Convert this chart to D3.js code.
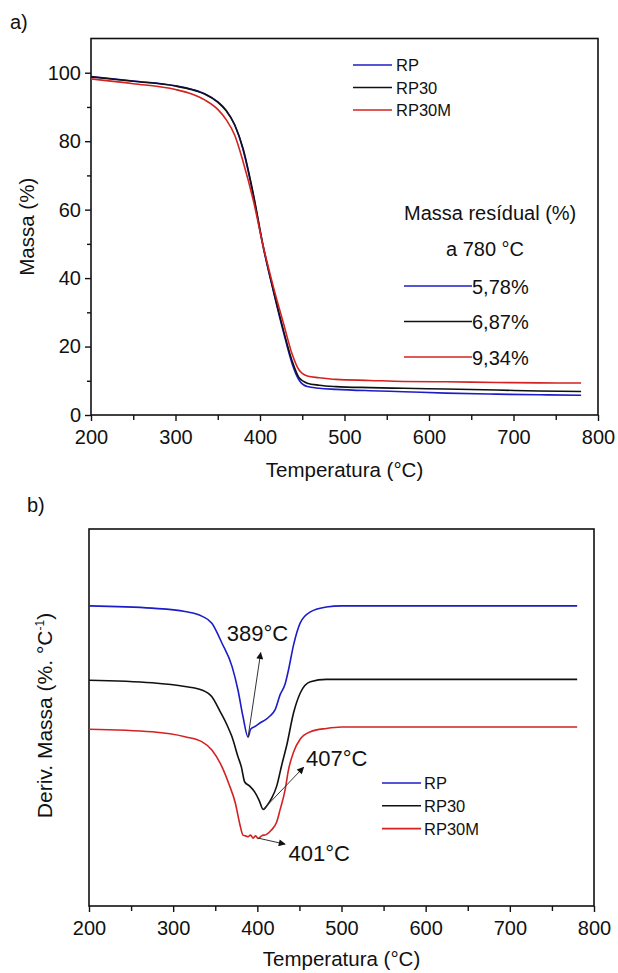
<!DOCTYPE html>
<html>
<head>
<meta charset="utf-8">
<script src="https://cdn.jsdelivr.net/npm/d3@7/dist/d3.min.js"></script>
<style>
  html, body { margin: 0; padding: 0; background: #fff; }
  svg { display: block; }
  text { font-family: "Liberation Sans", Arial, sans-serif; fill: #111; }
</style>
</head>
<body>
<svg id="chart" width="618" height="973"></svg>
<script>
// ---------- DATA ----------
const seriesNames = ["RP", "RP30", "RP30M"];
const seriesColors = ["#1c1cc8", "#111111", "#d42222"];
const residualLabels = ["5,78%", "6,87%", "9,34%"];

const xMajorTicks = [200, 300, 400, 500, 600, 700, 800];
const xMinorTicks = [250, 350, 450, 550, 650, 750];
const yMajorTicks = [0, 20, 40, 60, 80, 100];
const yMinorTicks = [10, 30, 50, 70, 90];

// (a) TGA: mass (%) vs temperature (°C)
const tgaTemp   = [200, 250, 300, 320, 335, 350, 360, 370, 380, 392, 404, 416, 428, 438, 446, 456, 470, 490, 530, 570, 620, 680, 730, 780];
const tgaRP     = [98.9, 97.6, 96.2, 95.1, 93.8, 91.5, 89.0, 84.8, 77.5, 64.3, 48.8, 36.0, 24.0, 15.0, 10.3, 8.3, 7.8, 7.5, 7.1, 6.8, 6.4, 6.1, 5.9, 5.78];
const tgaRP30   = [98.8, 97.5, 96.1, 95.0, 93.7, 91.4, 88.9, 84.8, 77.8, 64.7, 49.1, 36.3, 24.5, 15.8, 11.0, 9.3, 8.7, 8.3, 8.0, 7.8, 7.6, 7.3, 7.0, 6.87];
const tgaRP30M  = [98.2, 96.8, 95.1, 93.7, 92.0, 89.3, 86.3, 81.8, 74.0, 62.8, 49.1, 37.3, 26.6, 17.8, 13.2, 11.4, 10.9, 10.4, 10.1, 9.8, 9.7, 9.5, 9.4, 9.34];

// (b) DTG (arbitrary offset units)
const dtgTempRP   = [200, 275, 314, 334, 346, 358, 370, 377, 383, 389, 392, 397, 405, 409, 415, 421, 427, 433, 437, 443, 451, 463, 482, 500, 780];
const dtgRP       = [79.6, 79.0, 78.1, 76.9, 75.0, 69.7, 63.5, 57.3, 50.2, 44.8, 46.9, 47.6, 48.8, 49.3, 50.4, 52.0, 56.0, 58.9, 62.6, 69.2, 75.1, 78.0, 79.3, 79.6, 79.6];
const dtgTempRP30 = [200, 275, 314, 334, 346, 356, 364, 370, 377, 381, 385, 391, 397, 402, 407, 412, 417, 423, 429, 435, 443, 451, 463, 482, 780];
const dtgRP30     = [59.9, 59.2, 58.2, 57.3, 55.5, 51.5, 48.0, 44.8, 39.6, 36.9, 32.9, 31.8, 30.2, 28.1, 25.6, 26.8, 28.6, 31.8, 37.4, 42.7, 51.2, 56.5, 59.5, 60.1, 60.1];
const dtgTempRP30M = [200, 275, 314, 334, 346, 358, 366, 374, 379, 383, 386, 389, 392, 395, 398, 401, 405, 411, 417, 423, 427, 433, 437, 443, 451, 463, 482, 500, 780];
const dtgRP30M     = [46.9, 46.2, 44.9, 43.6, 41.4, 36.9, 32.5, 27.2, 21.9, 18.8, 18.6, 18.4, 18.8, 18.0, 18.6, 17.9, 18.6, 19.0, 20.2, 22.3, 25.5, 30.8, 36.1, 40.8, 44.3, 46.2, 47.1, 47.5, 47.5];

// peak annotations
const peakTemps  = [389, 407, 401];
const peakValues = [44.8, 25.6, 18.0];
const arrowEndT  = [404, 455, 433];
const arrowEndV  = [67.2, 36.8, 16.4];
const peakLabels = ["389°C", "407°C", "401°C"];
const labelT     = [363.6, 457.8, 437.1];
const labelV     = [70.3, 37.1, 11.9];

// ---------- DRAW ----------
const svg = d3.select("#chart");
svg.append("rect").attr("width", 618).attr("height", 973).attr("fill", "#fff");

const defs = svg.append("defs");
defs.append("marker").attr("id", "arrow").attr("viewBox", "0 0 10 10")
  .attr("refX", 9).attr("refY", 5).attr("markerWidth", 10).attr("markerHeight", 7)
  .attr("markerUnits", "userSpaceOnUse").attr("orient", "auto")
  .append("path").attr("d", "M0,0 L10,5 L0,10 z").attr("fill", "#111");

function frameAndXAxis(g, x, y0, y1) {
  g.append("rect").attr("x", x.range()[0]).attr("y", y1)
    .attr("width", x.range()[1] - x.range()[0]).attr("height", y0 - y1)
    .attr("fill", "none").attr("stroke", "#111").attr("stroke-width", 1.6);
  const ax = g.append("g").attr("transform", `translate(0,${y0})`)
    .call(d3.axisBottom(x).tickValues(xMajorTicks).tickSize(6).tickPadding(9).tickFormat(d3.format("d")));
  ax.select(".domain").remove();
  ax.selectAll("line").attr("stroke", "#111").attr("stroke-width", 1.4);
  ax.selectAll("text").attr("font-size", 20).attr("fill", "#111")
    .style("font-family", '"Liberation Sans", Arial, sans-serif');
  const axm = g.append("g").attr("transform", `translate(0,${y0})`)
    .call(d3.axisBottom(x).tickValues(xMinorTicks).tickSize(5).tickFormat(""));
  axm.select(".domain").remove();
  axm.selectAll("line").attr("stroke", "#111").attr("stroke-width", 1.4);
}

// ===== (a) =====
const xA = d3.scaleLinear().domain([200, 800]).range([91, 598]);
const yA = d3.scaleLinear().domain([0, 110]).range([415, 38.5]);
const gA = svg.append("g");

svg.append("text").attr("x", 10).attr("y", 29).attr("font-size", 20).text("a)");

frameAndXAxis(gA, xA, yA(0), yA(110));
const ayA = gA.append("g").attr("transform", `translate(${xA(200)},0)`)
  .call(d3.axisLeft(yA).tickValues(yMajorTicks).tickSize(6).tickPadding(4));
ayA.select(".domain").remove();
ayA.selectAll("line").attr("stroke", "#111").attr("stroke-width", 1.4);
ayA.selectAll("text").attr("font-size", 20).attr("fill", "#111")
  .style("font-family", '"Liberation Sans", Arial, sans-serif');
const aymA = gA.append("g").attr("transform", `translate(${xA(200)},0)`)
  .call(d3.axisLeft(yA).tickValues(yMinorTicks).tickSize(4).tickFormat(""));
aymA.select(".domain").remove();
aymA.selectAll("line").attr("stroke", "#111").attr("stroke-width", 1.4);

gA.append("text").attr("x", (xA(200) + xA(800)) / 2).attr("y", 477)
  .attr("text-anchor", "middle").attr("font-size", 20.5).text("Temperatura (°C)");
gA.append("text").attr("transform", `translate(34,${(yA(0) + yA(110)) / 2}) rotate(-90)`)
  .attr("text-anchor", "middle").attr("font-size", 20.5).text("Massa (%)");

const tgaSeries = [tgaRP, tgaRP30, tgaRP30M];
const lineA = d3.line().x(d => xA(d[0])).y(d => yA(d[1])).curve(d3.curveMonotoneX);
tgaSeries.forEach((vals, i) => {
  gA.append("path").datum(tgaTemp.map((t, k) => [t, vals[k]]))
    .attr("d", lineA).attr("fill", "none").attr("stroke", seriesColors[i]).attr("stroke-width", 1.6);
});

// legend (a)
const legA = gA.append("g");
seriesNames.forEach((n, i) => {
  const yy = 65 + i * 22.5;
  legA.append("line").attr("x1", 353).attr("x2", 392).attr("y1", yy).attr("y2", yy)
    .attr("stroke", seriesColors[i]).attr("stroke-width", 1.6);
  legA.append("text").attr("x", 396).attr("y", yy + 6).attr("font-size", 16.5).text(n);
});

// residual block
gA.append("text").attr("x", 404).attr("y", 220).attr("font-size", 20).text("Massa resídual (%)");
gA.append("text").attr("x", 446).attr("y", 256).attr("font-size", 20).text("a 780 °C");
residualLabels.forEach((lab, i) => {
  const yy = 286 + i * 35.5;
  gA.append("line").attr("x1", 404).attr("x2", 472).attr("y1", yy).attr("y2", yy)
    .attr("stroke", seriesColors[i]).attr("stroke-width", 1.6);
  gA.append("text").attr("x", 472).attr("y", yy + 7.5).attr("font-size", 20).text(lab);
});

// ===== (b) =====
const xB = d3.scaleLinear().domain([200, 800]).range([89, 594]);
const yB = d3.scaleLinear().domain([0, 100]).range([906, 529]);
const gB = svg.append("g");

svg.append("text").attr("x", 27).attr("y", 512).attr("font-size", 20).text("b)");

frameAndXAxis(gB, xB, yB(0), yB(100));

gB.append("text").attr("x", (xB(200) + xB(800)) / 2).attr("y", 966)
  .attr("text-anchor", "middle").attr("font-size", 20.5).text("Temperatura (°C)");
const yt = gB.append("text").attr("transform", `translate(52,${(yB(0) + yB(100)) / 2 - 2}) rotate(-90)`)
  .attr("text-anchor", "middle").attr("font-size", 21);
yt.append("tspan").text("Deriv. Massa (%. °C");
yt.append("tspan").attr("font-size", 12).attr("dy", -8).text("-1");
yt.append("tspan").attr("dy", 8).text(")");

const lineB = d3.line().x(d => xB(d[0])).y(d => yB(d[1])).curve(d3.curveMonotoneX);
const dtgSeries = [[dtgTempRP, dtgRP], [dtgTempRP30, dtgRP30], [dtgTempRP30M, dtgRP30M]];
dtgSeries.forEach(([ts, vs], i) => {
  gB.append("path").datum(ts.map((t, k) => [t, vs[k]]))
    .attr("d", lineB).attr("fill", "none").attr("stroke", seriesColors[i]).attr("stroke-width", 1.6);
});

// annotations
peakTemps.forEach((t, i) => {
  gB.append("line").attr("x1", xB(t)).attr("y1", yB(peakValues[i]))
    .attr("x2", xB(arrowEndT[i])).attr("y2", yB(arrowEndV[i]))
    .attr("stroke", "#333").attr("stroke-width", 1).attr("marker-end", "url(#arrow)");
  gB.append("text").attr("x", xB(labelT[i])).attr("y", yB(labelV[i]))
    .attr("font-size", 22).text(peakLabels[i]);
});

// legend (b)
seriesNames.forEach((n, i) => {
  const yy = 783 + i * 22.8;
  gB.append("line").attr("x1", 382).attr("x2", 421).attr("y1", yy).attr("y2", yy)
    .attr("stroke", seriesColors[i]).attr("stroke-width", 1.6);
  gB.append("text").attr("x", 424).attr("y", yy + 6).attr("font-size", 16.5).text(n);
});
</script>
</body>
</html>
